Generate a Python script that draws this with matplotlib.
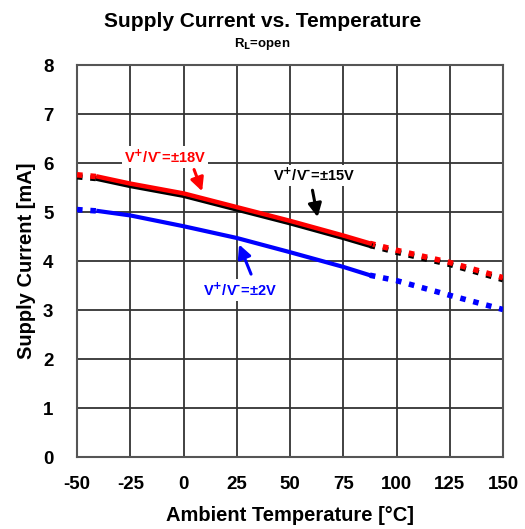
import matplotlib
matplotlib.use("Agg")
import matplotlib.pyplot as plt

plt.rcParams["font.family"] = ["Liberation Sans", "DejaVu Sans"]
plt.rcParams["font.weight"] = "bold"
plt.rcParams["axes.unicode_minus"] = False

# measured (solid) part
temp_solid = [-40, -25, 0, 25, 50, 75, 87.5]
i18_solid = [5.72, 5.58, 5.38, 5.10, 4.82, 4.52, 4.36]
i15_solid = [5.68, 5.54, 5.34, 5.06, 4.78, 4.48, 4.32]
i2_solid = [5.02, 4.93, 4.71, 4.47, 4.18, 3.88, 3.71]

# extrapolated (dotted) parts
temp_low = [-50, -40]
i18_low = [5.76, 5.72]
i15_low = [5.72, 5.68]
i2_low = [5.05, 5.02]

temp_high = [87.5, 100, 125, 150]
i18_high = [4.36, 4.22, 3.97, 3.66]
i15_high = [4.32, 4.18, 3.93, 3.62]
i2_high = [3.71, 3.60, 3.30, 3.01]

RED = "#ff0000"
BLACK = "#000000"
BLUE = "#0000ff"

fig = plt.figure(figsize=(5.25, 5.29), dpi=100)
ax = fig.add_axes([0.1467, 0.1361, 0.8114, 0.741])

dot = (0, (1.0, 1.4))
for t, ys, c in [(temp_low, i15_low, BLACK), (temp_high, i15_high, BLACK),
                 (temp_low, i18_low, RED), (temp_high, i18_high, RED),
                 (temp_low, i2_low, BLUE), (temp_high, i2_high, BLUE)]:
    ax.plot(t, ys, color=c, linewidth=4, linestyle=dot, dash_capstyle="butt", zorder=3)

ax.plot(temp_solid, i15_solid, color=BLACK, linewidth=3.8, zorder=3)
ax.plot(temp_solid, i18_solid, color=RED, linewidth=3.2, zorder=4)
ax.plot(temp_solid, i2_solid, color=BLUE, linewidth=3.0, zorder=4)

ax.set_xlim(-50, 150)
ax.set_ylim(0, 8)
ax.set_xticks(range(-50, 151, 25))
ax.set_yticks(range(0, 9))
ax.grid(True, color="#333333", linewidth=1.3, zorder=0)
for s in ax.spines.values():
    s.set_color("#555555")
    s.set_linewidth(1.5)
ax.tick_params(length=0, labelsize=13.5)
ax.tick_params(axis="x", pad=14)
ax.tick_params(axis="y", pad=17)
for lab in ax.get_xticklabels() + ax.get_yticklabels():
    lab.set_fontweight("bold")

ax.set_xlabel("Ambient Temperature [°C]", fontsize=14.5, fontweight="bold", labelpad=9)
ax.set_ylabel("Supply Current [mA]", fontsize=14.5, fontweight="bold", labelpad=5)

fig.text(0.5, 0.960, "Supply Current vs. Temperature", ha="center", va="center",
         fontsize=15, fontweight="bold")
fig.text(0.5, 0.917, r"R$_\mathbf{L}$=open", ha="center", va="center",
         fontsize=9.5, fontweight="bold")

box = dict(facecolor="white", edgecolor="none", pad=1.5)
arrow_kw = dict(arrowstyle="-|>", linewidth=2.2, mutation_scale=20)
label_fmt = "V$^{\\mathbf{+}}$/V$^{\\text{-}}$=±%dV"

ax.annotate("", xy=(9.2, 5.37), xytext=(4.5, 5.92),
            arrowprops=dict(color=RED, **arrow_kw), zorder=6)
ax.text(-8.7, 6.12, label_fmt % 18, color=RED, fontsize=10.5,
        fontweight="bold", ha="center", va="center", bbox=box, zorder=6)

ax.annotate("", xy=(63.2, 4.84), xytext=(60.3, 5.50),
            arrowprops=dict(color=BLACK, **arrow_kw), zorder=6)
ax.text(61.3, 5.74, label_fmt % 15, color=BLACK, fontsize=10.5,
        fontweight="bold", ha="center", va="center", bbox=box, zorder=6)

ax.annotate("", xy=(25.6, 4.39), xytext=(32.2, 3.68),
            arrowprops=dict(color=BLUE, **arrow_kw), zorder=6)
ax.text(26.5, 3.41, label_fmt % 2, color=BLUE, fontsize=10.5,
        fontweight="bold", ha="center", va="center", bbox=box, zorder=6)

fig.savefig("out.png", dpi=100)
